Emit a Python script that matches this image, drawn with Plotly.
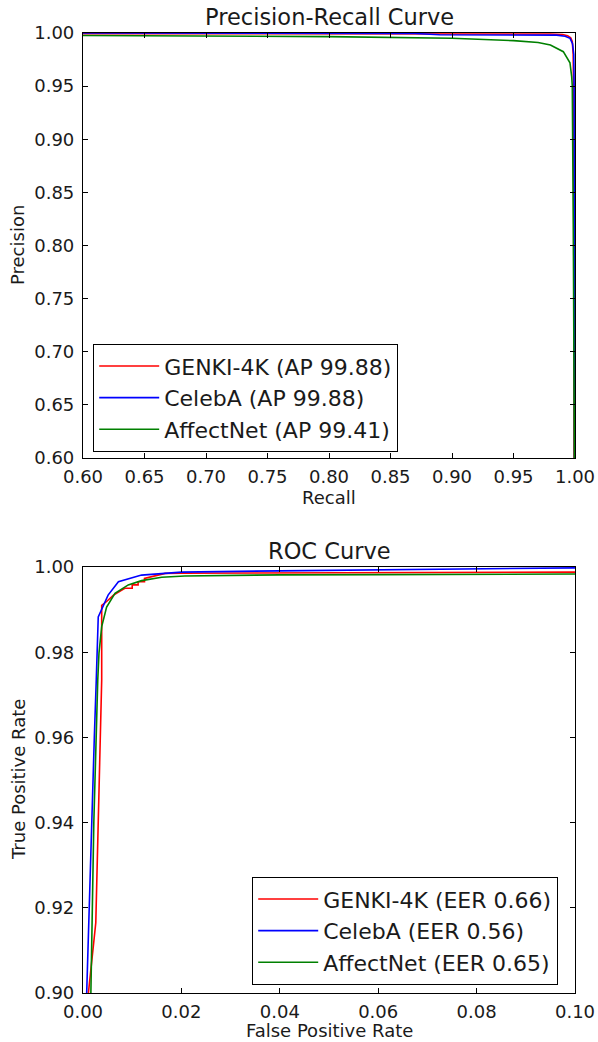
import plotly.graph_objects as go

# ---------------- data ----------------
pr_names = ["GENKI-4K (AP 99.88)", "CelebA (AP 99.88)", "AffectNet (AP 99.41)"]
roc_names = ["GENKI-4K (EER 0.66)", "CelebA (EER 0.56)", "AffectNet (EER 0.65)"]
colors = ["#ff0000", "#0000ff", "#008000"]

genki_recall = [0.60, 0.70, 0.80, 0.90, 0.95, 0.98, 0.990, 0.994, 0.9965, 0.9978, 0.9985, 0.9988, 0.9990, 0.9992]
genki_precision = [0.9994, 0.9994, 0.9994, 0.9993, 0.9992, 0.9990, 0.9985, 0.9975, 0.9955, 0.9920, 0.9800, 0.9500, 0.8000, 0.6000]

celeba_recall = [0.60, 0.80, 0.87, 0.89, 0.95, 0.985, 0.992, 0.996, 0.998, 0.9990, 0.9993, 0.9995, 0.9996]
celeba_precision = [0.99995, 0.99995, 0.9995, 0.9984, 0.9982, 0.9980, 0.9970, 0.9950, 0.9900, 0.9800, 0.9500, 0.8000, 0.6000]

affect_recall = [0.60, 0.70, 0.80, 0.90, 0.95, 0.97, 0.98, 0.9905, 0.9959, 0.9973, 0.9978, 0.9986, 0.9995]
affect_precision = [0.9976, 0.9972, 0.9966, 0.9950, 0.9928, 0.9910, 0.9887, 0.9824, 0.9720, 0.9590, 0.9500, 0.8200, 0.6000]

genki_fpr = [0.0011, 0.0026, 0.0038, 0.0038, 0.0048, 0.0062, 0.0085, 0.0100, 0.0100, 0.0112, 0.0112, 0.0125, 0.0125, 0.0150, 0.0167, 0.0200, 0.0400, 0.0600, 0.0800, 0.1000]
genki_tpr = [0.9000, 0.9165, 0.9735, 0.9910, 0.9919, 0.9934, 0.9950, 0.9950, 0.9958, 0.9958, 0.99655, 0.99655, 0.9973, 0.9981, 0.9985, 0.99855, 0.9986, 0.99865, 0.9987, 0.9988]

celeba_fpr = [0.00075, 0.0012, 0.0018, 0.0023, 0.0027, 0.0031, 0.0051, 0.0072, 0.0119, 0.0160, 0.0200, 0.0400, 0.0600, 0.0800, 0.1000]
celeba_tpr = [0.9000, 0.9188, 0.9400, 0.9600, 0.9735, 0.9883, 0.9934, 0.99655, 0.9981, 0.9985, 0.9988, 0.9991, 0.9993, 0.9995, 0.9998]

affect_fpr = [0.0016, 0.0022, 0.0030, 0.00325, 0.0038, 0.0048, 0.0065, 0.0092, 0.0119, 0.0160, 0.0207, 0.0400, 0.0600, 0.0800, 0.1000]
affect_tpr = [0.9000, 0.9400, 0.9735, 0.9798, 0.9860, 0.9906, 0.9938, 0.9958, 0.9968, 0.9976, 0.9979, 0.99815, 0.9982, 0.9983, 0.99836]

pr_xticks = [0.60, 0.65, 0.70, 0.75, 0.80, 0.85, 0.90, 0.95, 1.00]
pr_yticks = [0.60, 0.65, 0.70, 0.75, 0.80, 0.85, 0.90, 0.95, 1.00]
roc_xticks = [0.00, 0.02, 0.04, 0.06, 0.08, 0.10]
roc_yticks = [0.90, 0.92, 0.94, 0.96, 0.98, 1.00]

# ---------------- figure ----------------
W, H = 598, 1042
FONT = "DejaVu Sans"


def px(x):
    return x / W


def py(y):
    return 1 - y / H


fig = go.Figure()

pr_data = [(genki_recall, genki_precision), (celeba_recall, celeba_precision), (affect_recall, affect_precision)]
roc_data = [(genki_fpr, genki_tpr), (celeba_fpr, celeba_tpr), (affect_fpr, affect_tpr)]

for (x, y), name, c in zip(pr_data, pr_names, colors):
    fig.add_trace(go.Scatter(x=x, y=y, mode="lines", name=name,
                             line=dict(color=c, width=1.6),
                             xaxis="x", yaxis="y", legend="legend"))
for (x, y), name, c in zip(roc_data, roc_names, colors):
    fig.add_trace(go.Scatter(x=x, y=y, mode="lines", name=name,
                             line=dict(color=c, width=1.6),
                             xaxis="x2", yaxis="y2", legend="legend2"))

xdom = [px(83), px(575)]
top_dom = [py(458), py(33)]
bot_dom = [py(993), py(567)]

axis_common = dict(showgrid=False, zeroline=False, showline=True, linecolor="black",
                   linewidth=1.2, mirror="ticks", ticks="inside", ticklen=5,
                   tickcolor="black", tickwidth=1, automargin=False,
                   tickfont=dict(family=FONT, size=18, color="#1a1a1a"))

legend_common = dict(xanchor="left", yanchor="top",
                     bgcolor="white", bordercolor="black", borderwidth=1.2,
                     font=dict(family=FONT, size=22, color="#1a1a1a"),
                     itemwidth=60, tracegroupgap=0)

fig.update_layout(
    width=W, height=H,
    margin=dict(l=0, r=0, t=0, b=0, autoexpand=False),
    paper_bgcolor="white", plot_bgcolor="white",
    font=dict(family=FONT, color="#1a1a1a"),
    hovermode=False,
    xaxis=dict(domain=xdom, range=[0.6, 1.0], anchor="y",
               tickvals=pr_xticks, ticktext=[f"{v:.2f}" for v in pr_xticks],
               ticklabelstandoff=2, **axis_common),
    yaxis=dict(domain=top_dom, range=[0.6, 1.0], anchor="x",
               tickvals=pr_yticks, ticktext=[f"{v:.2f}" for v in pr_yticks],
               ticklabelstandoff=4, **axis_common),
    xaxis2=dict(domain=xdom, range=[0.0, 0.1], anchor="y2",
                tickvals=roc_xticks, ticktext=[f"{v:.2f}" for v in roc_xticks],
                ticklabelstandoff=2, **axis_common),
    yaxis2=dict(domain=bot_dom, range=[0.9, 1.0], anchor="x2",
                tickvals=roc_yticks, ticktext=[f"{v:.2f}" for v in roc_yticks],
                ticklabelstandoff=4, **axis_common),
    legend=dict(x=px(93), y=py(344), **legend_common),
    legend2=dict(x=px(252), y=py(877), **legend_common),
    showlegend=True,
)

ann = [
    dict(text="Precision-Recall Curve", x=px(329), y=py(17), size=22.5, angle=0),
    dict(text="ROC Curve", x=px(329), y=py(551), size=22.5, angle=0),
    dict(text="Recall", x=px(329), y=py(498), size=18, angle=0),
    dict(text="False Positive Rate", x=px(329), y=py(1030), size=18, angle=0),
    dict(text="Precision", x=px(18), y=py(245), size=18, angle=-90),
    dict(text="True Positive Rate", x=px(18), y=py(780), size=18, angle=-90),
]
for a in ann:
    fig.add_annotation(text=a["text"], x=a["x"], y=a["y"], xref="paper", yref="paper",
                       xanchor="center", yanchor="middle", showarrow=False,
                       textangle=a["angle"],
                       font=dict(family=FONT, size=a["size"], color="#1a1a1a"))

# remove the browser's default 8px page margin so the 598x1042 figure fills the window
fig.write_html("out.html",
               config={"displayModeBar": False},
               post_script="document.body.style.margin='0';document.body.style.overflow='hidden';")
